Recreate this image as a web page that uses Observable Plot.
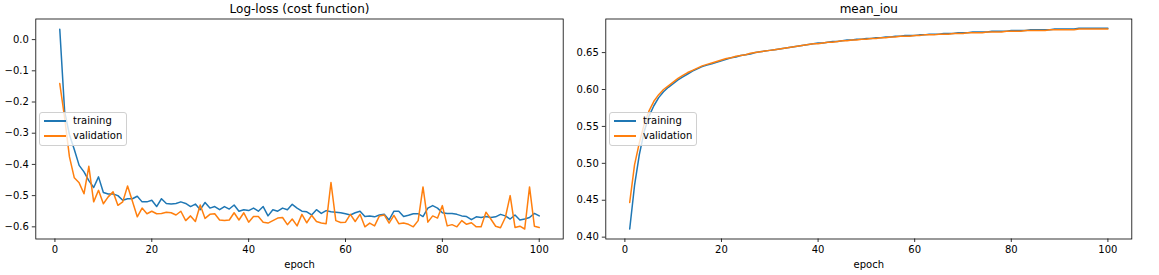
<!DOCTYPE html>
<html>
<head>
<meta charset="utf-8">
<script src="https://cdn.jsdelivr.net/npm/d3@7"></script>
<script src="https://cdn.jsdelivr.net/npm/@observablehq/plot@0.6"></script>
<style>
  html, body { margin: 0; padding: 0; background: white; }
  #wrap { position: relative; width: 1159px; height: 275px; display: flex; font-family: "DejaVu Sans", sans-serif; }
  .legend { position: absolute; width: 86px; height: 32px; border: 1px solid #d0d0d0; border-radius: 3px; background: rgba(255,255,255,0.8); font-size: 10px; color: black; }
  .row { position: absolute; left: 0; height: 14px; line-height: 14px; white-space: nowrap; }
  .sw { position: absolute; left: 4px; top: 6px; width: 22px; height: 2px; }
  .lbl { position: absolute; left: 33px; top: 0; }
</style>
</head>
<body>
<div id="wrap"></div>
<script>
const epochs = d3.range(1, 101);
const seriesNames = ["training", "validation"];
const seriesColors = ["#1f77b4", "#ff7f0e"];
const panelTitles = ["Log-loss (cost function)", "mean_iou"];
const xTicks = [0, 20, 40, 60, 80, 100];
const lossTicks = [0.0, -0.1, -0.2, -0.3, -0.4, -0.5, -0.6];
const iouTicks = [0.40, 0.45, 0.50, 0.55, 0.60, 0.65];

const lossTraining = [
  0.033, -0.230, -0.305, -0.352, -0.403, -0.424, -0.452, -0.474, -0.440, -0.490,
  -0.495, -0.495, -0.500, -0.515, -0.510, -0.510, -0.502, -0.520, -0.520, -0.515,
  -0.535, -0.510, -0.525, -0.527, -0.525, -0.520, -0.525, -0.535, -0.527, -0.545,
  -0.522, -0.540, -0.535, -0.545, -0.535, -0.543, -0.530, -0.550, -0.545, -0.548,
  -0.540, -0.550, -0.535, -0.565, -0.545, -0.550, -0.540, -0.545, -0.528, -0.540,
  -0.550, -0.552, -0.562, -0.545, -0.557, -0.548, -0.552, -0.553, -0.555, -0.558,
  -0.562, -0.555, -0.550, -0.567, -0.565, -0.568, -0.562, -0.560, -0.578, -0.550,
  -0.550, -0.567, -0.563, -0.558, -0.558, -0.567, -0.540, -0.532, -0.540, -0.555,
  -0.557, -0.557, -0.560, -0.565, -0.567, -0.577, -0.568, -0.570, -0.567, -0.570,
  -0.568, -0.560, -0.565, -0.575, -0.562, -0.578, -0.575, -0.570, -0.557, -0.565
];
const lossValidation = [
  -0.141, -0.250, -0.376, -0.443, -0.459, -0.494, -0.406, -0.520, -0.483, -0.526,
  -0.504, -0.488, -0.531, -0.520, -0.469, -0.518, -0.568, -0.540, -0.558, -0.550,
  -0.558, -0.557, -0.553, -0.555, -0.562, -0.550, -0.580, -0.565, -0.583, -0.530,
  -0.573, -0.560, -0.558, -0.578, -0.580, -0.578, -0.555, -0.578, -0.555, -0.585,
  -0.567, -0.567, -0.585, -0.588, -0.580, -0.572, -0.570, -0.593, -0.575, -0.597,
  -0.560, -0.587, -0.563, -0.583, -0.588, -0.590, -0.458, -0.580, -0.586, -0.585,
  -0.560, -0.583, -0.560, -0.600, -0.588, -0.597, -0.565, -0.562, -0.588, -0.563,
  -0.590, -0.588, -0.592, -0.600, -0.580, -0.472, -0.585, -0.565, -0.572, -0.532,
  -0.597, -0.593, -0.600, -0.580, -0.592, -0.587, -0.600, -0.600, -0.553, -0.575,
  -0.598, -0.603, -0.570, -0.500, -0.602, -0.598, -0.607, -0.472, -0.598, -0.602
];
const iouTraining = [
  0.411, 0.470, 0.512, 0.543, 0.564, 0.578, 0.589, 0.597, 0.603, 0.608,
  0.613, 0.617, 0.621, 0.625, 0.628, 0.631, 0.633, 0.635, 0.637, 0.639,
  0.641, 0.643, 0.644, 0.646, 0.647, 0.648, 0.650, 0.651, 0.652, 0.653,
  0.654, 0.655, 0.656, 0.657, 0.658, 0.659, 0.660, 0.661, 0.662, 0.663,
  0.663, 0.664, 0.665, 0.665, 0.666, 0.667, 0.667, 0.668, 0.668, 0.669,
  0.669, 0.670, 0.670, 0.671, 0.671, 0.672, 0.672, 0.673, 0.673, 0.673,
  0.674, 0.674, 0.675, 0.675, 0.675, 0.676, 0.676, 0.676, 0.677, 0.677,
  0.677, 0.678, 0.678, 0.678, 0.678, 0.679, 0.679, 0.679, 0.679, 0.680,
  0.680, 0.680, 0.680, 0.681, 0.681, 0.681, 0.681, 0.681, 0.682, 0.682,
  0.682, 0.682, 0.682, 0.683, 0.683, 0.683, 0.683, 0.683, 0.683, 0.683
];
const iouValidation = [
  0.447, 0.498, 0.528, 0.553, 0.571, 0.584, 0.593, 0.600, 0.605, 0.610,
  0.615, 0.619, 0.623, 0.626, 0.629, 0.632, 0.634, 0.636, 0.638, 0.640,
  0.642, 0.643, 0.645, 0.646, 0.647, 0.649, 0.650, 0.651, 0.652, 0.653,
  0.654, 0.655, 0.656, 0.657, 0.658, 0.659, 0.660, 0.661, 0.662, 0.662,
  0.663, 0.664, 0.664, 0.665, 0.666, 0.666, 0.667, 0.667, 0.668, 0.668,
  0.669, 0.669, 0.670, 0.670, 0.671, 0.671, 0.672, 0.672, 0.672, 0.673,
  0.673, 0.674, 0.674, 0.674, 0.675, 0.675, 0.675, 0.676, 0.676, 0.676,
  0.677, 0.677, 0.677, 0.677, 0.678, 0.678, 0.678, 0.678, 0.679, 0.679,
  0.679, 0.679, 0.680, 0.680, 0.680, 0.680, 0.680, 0.681, 0.681, 0.681,
  0.681, 0.681, 0.681, 0.682, 0.682, 0.682, 0.682, 0.682, 0.682, 0.682
];

function panel({title, train, val, yDomain, yTicks, yFormat, width, marginLeft, marginRight}) {
  const rows = [];
  epochs.forEach((e, i) => {
    rows.push({epoch: e, value: train[i], series: seriesNames[0]});
  });
  epochs.forEach((e, i) => {
    rows.push({epoch: e, value: val[i], series: seriesNames[1]});
  });
  return Plot.plot({
    width, height: 275,
    marginLeft, marginRight, marginTop: 18.5, marginBottom: 36.5,
    style: {fontFamily: "DejaVu Sans", fontSize: "10px", color: "black", background: "white", overflow: "visible"},
    x: {domain: [-3.95, 104.95]},
    y: {domain: yDomain},
    color: {domain: seriesNames, range: seriesColors},
    marks: [
      Plot.lineY(rows, {x: "epoch", y: "value", z: "series", stroke: "series", strokeWidth: 1.5}),
      Plot.frame({stroke: "black", strokeWidth: 0.8}),
      Plot.axisX({ticks: xTicks, tickSize: 3.5, tickPadding: 3, tickFormat: d => String(d), label: null, strokeWidth: 0.8}),
      Plot.axisY({ticks: yTicks, tickSize: 3.5, tickPadding: 3.5, tickFormat: yFormat, label: null, strokeWidth: 0.8}),
      Plot.text([title], {frameAnchor: "top", lineAnchor: "middle", dy: -10, fontSize: 12, text: d => d}),
      Plot.text(["epoch"], {frameAnchor: "bottom", lineAnchor: "middle", dy: 26, fontSize: 10, text: d => d})
    ]
  });
}

const wrap = document.getElementById("wrap");
wrap.appendChild(panel({
  title: panelTitles[0], train: lossTraining, val: lossValidation,
  yDomain: [-0.639, 0.066], yTicks: lossTicks, yFormat: d3.format(".1f"),
  width: 580, marginLeft: 35.3, marginRight: 17.3
}));
wrap.appendChild(panel({
  title: panelTitles[1], train: iouTraining, val: iouValidation,
  yDomain: [0.3975, 0.6955], yTicks: iouTicks, yFormat: d3.format(".2f"),
  width: 579, marginLeft: 25.3, marginRight: 27.7
}));

function legend(left, top) {
  const box = document.createElement("div");
  box.className = "legend";
  box.style.left = left + "px";
  box.style.top = top + "px";
  seriesNames.forEach((name, i) => {
    const row = document.createElement("div");
    row.className = "row";
    row.style.top = (1 + i * 15) + "px";
    const sw = document.createElement("div");
    sw.className = "sw";
    sw.style.background = seriesColors[i];
    const lbl = document.createElement("span");
    lbl.className = "lbl";
    lbl.textContent = name;
    row.appendChild(sw);
    row.appendChild(lbl);
    box.appendChild(row);
  });
  wrap.appendChild(box);
}
legend(39, 112);
legend(609, 112);
</script>
</body>
</html>
